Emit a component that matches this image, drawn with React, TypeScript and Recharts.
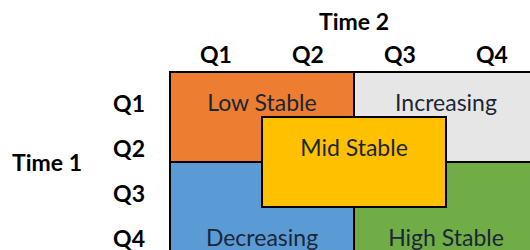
import React from 'react';
import { ComposedChart, XAxis, YAxis, ReferenceArea, Scatter, Label } from 'recharts';

// Quarter labels and their centre positions on both axes (quarter units)
const colLabels = ['Q1', 'Q2', 'Q3', 'Q4'];
const rowLabels = ['Q1', 'Q2', 'Q3', 'Q4'];
const quarterTicks = [0.5, 1.5, 2.5, 3.5];

// Regions in quarter units: Time 2 (x) from x1 to x2, Time 1 (y) from y1 to y2
const regionNames = ['Low Stable', 'Increasing', 'Decreasing', 'High Stable', 'Mid Stable'];
const regionX1 = [0, 2, 0, 2, 1];
const regionX2 = [2, 4, 2, 4, 3];
const regionY1 = [0, 0, 2, 2, 1];
const regionY2 = [2, 2, 4, 4, 3];
// Row (Time 1 quarter centre) in which each region's name is written
const regionLabelRow = [0.5, 0.5, 3.5, 3.5, 1.5];

const regionColors = ['#ED7D31', '#E7E6E6', '#5B9BD5', '#70AD47', '#FFC000'];

const FONT = 'Lato, "Open Sans", sans-serif';
const CELL_TEXT = '#1B2636';

const regionLabelData = regionNames.map((name, i) => ({
  name,
  x: (regionX1[i] + regionX2[i]) / 2,
  y: regionLabelRow[i],
}));

const XTick = (props: any) => {
  const { x, y, payload } = props;
  const idx = quarterTicks.indexOf(payload.value);
  return (
    <text x={x} y={y} textAnchor="middle" fontFamily={FONT} fontWeight="bold" fontSize={23} fill="#000">
      {colLabels[idx]}
    </text>
  );
};

const YTick = (props: any) => {
  const { x, y, payload } = props;
  const idx = quarterTicks.indexOf(payload.value);
  return (
    <text x={x} y={y} dy={8} textAnchor="end" dominantBaseline="central" fontFamily={FONT} fontWeight="bold" fontSize={23} fill="#000">
      {rowLabels[idx]}
    </text>
  );
};

const RegionName = (props: any) => {
  const { cx, cy, payload } = props;
  return (
    <text x={cx} y={cy} dy={7} textAnchor="middle" dominantBaseline="central" fontFamily={FONT} fontSize={23} fill={CELL_TEXT}>
      {payload.name}
    </text>
  );
};

export default function App() {
  return (
    <div style={{ position: 'absolute', left: 0, top: 0, width: 530, height: 250, overflow: 'hidden', background: '#fff' }}>
      <ComposedChart width={540} height={256} margin={{ top: 32, right: 2, bottom: 4, left: 0 }} data={regionLabelData}>
        <XAxis
          type="number"
          dataKey="x"
          orientation="top"
          domain={[0, 4]}
          ticks={quarterTicks}
          height={40}
          axisLine={false}
          tickLine={false}
          tickSize={0}
          tickMargin={9}
          tick={<XTick />}
          interval={0}
        >
          <Label
            content={(p: any) => {
              const vb = p.viewBox;
              return (
                <text x={vb.x + vb.width / 2} y={vb.y - 2} textAnchor="middle" fontFamily={FONT} fontWeight="bold" fontSize={23} fill="#000">
                  Time 2
                </text>
              );
            }}
          />
        </XAxis>
        <YAxis
          type="number"
          dataKey="y"
          reversed
          domain={[0, 4]}
          ticks={quarterTicks}
          width={170}
          axisLine={false}
          tickLine={false}
          tickSize={0}
          tickMargin={25}
          tick={<YTick />}
          interval={0}
        >
          <Label
            content={(p: any) => {
              const vb = p.viewBox;
              return (
                <text x={vb.x + 12} y={vb.y + vb.height / 2} dominantBaseline="central" fontFamily={FONT} fontWeight="bold" fontSize={23} fill="#000">
                  Time 1
                </text>
              );
            }}
          />
        </YAxis>
        {regionNames.map((name, i) => (
          <ReferenceArea
            key={name}
            x1={regionX1[i]}
            x2={regionX2[i]}
            y1={regionY1[i]}
            y2={regionY2[i]}
            fill={regionColors[i]}
            fillOpacity={1}
            stroke="#000"
            strokeWidth={2}
            ifOverflow="visible"
          />
        ))}
        <Scatter data={regionLabelData} dataKey="y" shape={<RegionName />} isAnimationActive={false} />
      </ComposedChart>
    </div>
  );
}
